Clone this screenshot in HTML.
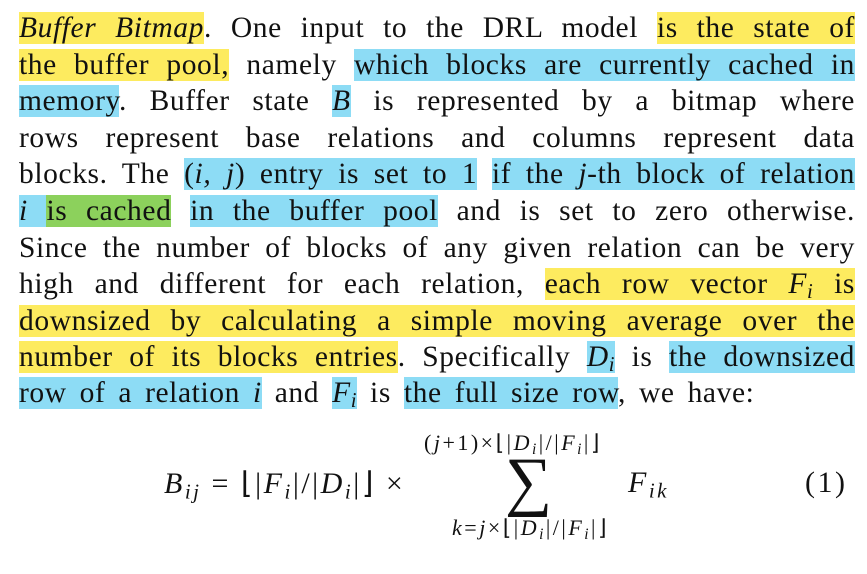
<!DOCTYPE html>
<html><head><meta charset="utf-8"><style>
body{margin:0;background:#fff;width:867px;height:574px;position:relative;overflow:hidden;font-family:"Liberation Serif",serif;color:#111}
.l{position:absolute;left:19px;width:836px;font-size:29.5px;letter-spacing:0.6px;line-height:36px;height:36px;white-space:nowrap;text-align:justify;text-align-last:justify}
.y{background:#fdeb5f}.b{background:#8ddcf5}.g{background:#8cd15c}
.m{position:absolute;font-size:30px;letter-spacing:2.5px;white-space:nowrap}
.s{position:absolute;font-size:22px;letter-spacing:2.5px;white-space:nowrap}
sub{font-size:0.7em;vertical-align:-0.25em;line-height:0}
</style></head><body>
<div class="l" style="top:10px"><span class="y"><i>Buffer Bitmap</i></span>. One input to the DRL model <span class="y">is the state of</span></div>
<div class="l" style="top:47px"><span class="y">the buffer pool,</span> namely <span class="b">which blocks are currently cached in</span></div>
<div class="l" style="top:83px"><span class="b">memory</span>. Buffer state <span class="b"><i>B</i></span> is represented by a bitmap where</div>
<div class="l" style="top:120px">rows represent base relations and columns represent data</div>
<div class="l" style="top:156px">blocks. The <span class="b">(<i>i, j</i>) entry is set to 1</span> <span class="b">if the <i>j</i>-th block of relation</span></div>
<div class="l" style="top:193px"><span class="b"><i>i</i> </span><span class="g">is cached</span> <span class="b">in the buffer pool</span> and is set to zero otherwise.</div>
<div class="l" style="top:230px">Since the number of blocks of any given relation can be very</div>
<div class="l" style="top:266px">high and different for each relation, <span class="y">each row vector <i>F<sub>i</sub></i> is</span></div>
<div class="l" style="top:303px"><span class="y">downsized by calculating a simple moving average over the</span></div>
<div class="l" style="top:339px"><span class="y">number of its blocks entries</span>. Specifically <span class="b"><i>D<sub>i</sub></i></span> is <span class="b">the downsized</span></div>
<div class="l" style="top:375px;width:auto;text-align:left;word-spacing:5px"><span class="b">row of a relation <i>i</i></span> and <span class="b"><i>F<sub>i</sub></i></span> is <span class="b">the full size row</span>, we have:</div>
<div class="m" style="left:164px;top:466px"><i>B<sub>ij</sub></i> = ⌊|<i>F<sub>i</sub></i>|/|<i>D<sub>i</sub></i>|⌋ ×</div>
<div class="s" style="left:424px;top:430px">(<i>j</i>+1)×⌊|<i>D<sub>i</sub></i>|/|<i>F<sub>i</sub></i>|⌋</div>
<div class="m" style="left:505px;top:447px;font-size:66px;line-height:70px;letter-spacing:0">∑</div>
<div class="s" style="left:452px;top:515px"><i>k</i>=<i>j</i>×⌊|<i>D<sub>i</sub></i>|/|<i>F<sub>i</sub></i>|⌋</div>
<div class="m" style="left:628px;top:466px"><i>F<sub>ik</sub></i></div>
<div class="m" style="left:805px;top:466px">(1)</div>
</body></html>
